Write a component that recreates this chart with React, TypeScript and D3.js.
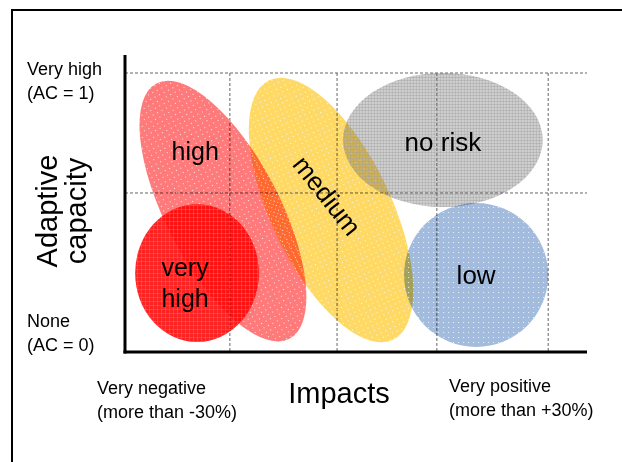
import React from "react";
import * as d3 from "d3";

const W = 622;
const H = 462;

// grid positions (normalized impact / adaptive capacity units)
const gridX = [0.227, 0.459, 0.675, 0.916];
const gridY = [1, 0.57];

// risk zones
const zoneNames = ["high", "very high", "medium", "no risk", "low"];
const zoneCx = [0.212, 0.156, 0.446, 0.688, 0.76];
const zoneCy = [0.505, 0.283, 0.509, 0.76, 0.276];
const zoneRx = [0.123, 0.134, 0.13, 0.216, 0.156];
const zoneRy = [0.516, 0.247, 0.515, 0.24, 0.258];
const zoneAngle = [-27.5, 0, -25.5, 0, 0];
const zoneColor = ["#ff7a7a", "#ff2020", "#ffd966", "#d0d0d0", "#a3bcdd"];
const zoneTexture = ["dots", "grid", "dots", "check", "dots"];

const labelLines = [["high"], ["very", "high"], ["medium"], ["no risk"], ["low"]];
const labelX = [0.152, 0.13, 0.422, 0.688, 0.76];
const labelY = [0.688, 0.272, 0.541, 0.72, 0.244];
const labelAngle = [0, 0, 52, 0, 0];
const labelSize = [25, 25, 26, 26, 26];

const yTickLabels = [["Very high", "(AC = 1)"], ["None", "(AC = 0)"]];
const xTickLabels = [["Very negative", "(more than -30%)"], ["Very positive", "(more than +30%)"]];
const xTitle = "Impacts";
const yTitle = ["Adaptive", "capacity"];

const FONT = "'Liberation Sans', Arial, Helvetica, sans-serif";

export default function App() {
  const x = d3.scaleLinear().domain([0, 1]).range([125, 587]);
  const y = d3.scaleLinear().domain([0, 1]).range([352, 73]);
  const [x0, x1] = x.range();
  const [y0] = y.range();

  return (
    <svg
      width={W}
      height={H}
      style={{ position: "absolute", left: 0, top: 0, background: "#fff" }}
      fontFamily={FONT}
    >
      <defs>
        <pattern id="dots" width={5} height={5} patternUnits="userSpaceOnUse">
          <rect x={2} y={2} width={1} height={1} fill="#fff" opacity={0.85} />
        </pattern>
        <pattern id="grid" width={4} height={4} patternUnits="userSpaceOnUse">
          <rect x={0} y={0} width={4} height={1} fill="#ff7070" opacity={0.45} />
          <rect x={0} y={0} width={1} height={4} fill="#ff7070" opacity={0.45} />
        </pattern>
        <pattern id="check" width={3} height={3} patternUnits="userSpaceOnUse">
          <rect x={0} y={0} width={3} height={1} fill="#a0a0a0" opacity={0.45} />
          <rect x={0} y={0} width={1} height={3} fill="#a0a0a0" opacity={0.45} />
        </pattern>
      </defs>

      {/* outer frame */}
      <rect x={12} y={10} width={700} height={520} fill="none" stroke="#000" strokeWidth={2} />

      {/* grid */}
      <g stroke="#666" strokeWidth={1} strokeDasharray="3,2" fill="none">
        {gridY.map((v, i) => (
          <line key={"gy" + i} x1={x0} x2={x1} y1={y(v)} y2={y(v)} />
        ))}
        {gridX.map((v, i) => (
          <line key={"gx" + i} x1={x(v)} x2={x(v)} y1={y(1)} y2={y(0)} />
        ))}
      </g>

      {/* zones */}
      {zoneNames.map((n, i) => {
        const rx = x(zoneRx[i]) - x(0);
        const ry = y(0) - y(zoneRy[i]);
        const t = `translate(${x(zoneCx[i])},${y(zoneCy[i])}) rotate(${zoneAngle[i]})`;
        return (
          <g key={n} transform={t}>
            <ellipse rx={rx} ry={ry} fill={zoneColor[i]} style={{ mixBlendMode: "multiply" }} />
            <ellipse rx={rx} ry={ry} fill={`url(#${zoneTexture[i]})`} />
          </g>
        );
      })}

      {/* zone labels */}
      {zoneNames.map((n, i) => (
        <text
          key={"l" + n}
          transform={`translate(${x(labelX[i])},${y(labelY[i])}) rotate(${labelAngle[i]})`}
          textAnchor="middle"
          fontSize={labelSize[i]}
          fill="#000"
        >
          {labelLines[i].map((s, j) => (
            <tspan key={j} x={0} y={j * 31}>
              {s}
            </tspan>
          ))}
        </text>
      ))}

      {/* axes */}
      <line x1={x0} x2={x0} y1={55} y2={y0 + 1.5} stroke="#000" strokeWidth={3} />
      <line x1={x0 - 1.5} x2={x1} y1={y0} y2={y0} stroke="#000" strokeWidth={3} />

      {/* y tick labels */}
      <text x={27} y={75} fontSize={18}>
        <tspan x={27}>{yTickLabels[0][0]}</tspan>
        <tspan x={27} dy={24}>{yTickLabels[0][1]}</tspan>
      </text>
      <text x={27} y={327} fontSize={18}>
        <tspan x={27}>{yTickLabels[1][0]}</tspan>
        <tspan x={27} dy={24}>{yTickLabels[1][1]}</tspan>
      </text>

      {/* x tick labels */}
      <text x={97} y={394} fontSize={18}>
        <tspan x={97}>{xTickLabels[0][0]}</tspan>
        <tspan x={97} dy={24}>{xTickLabels[0][1]}</tspan>
      </text>
      <text x={449} y={392} fontSize={18}>
        <tspan x={449}>{xTickLabels[1][0]}</tspan>
        <tspan x={449} dy={24}>{xTickLabels[1][1]}</tspan>
      </text>

      {/* titles */}
      <text x={339} y={403} fontSize={29} textAnchor="middle">
        {xTitle}
      </text>
      <text transform="translate(57,211) rotate(-90)" fontSize={29} textAnchor="middle">
        <tspan x={0} y={0}>{yTitle[0]}</tspan>
        <tspan x={0} y={29}>{yTitle[1]}</tspan>
      </text>
    </svg>
  );
}
